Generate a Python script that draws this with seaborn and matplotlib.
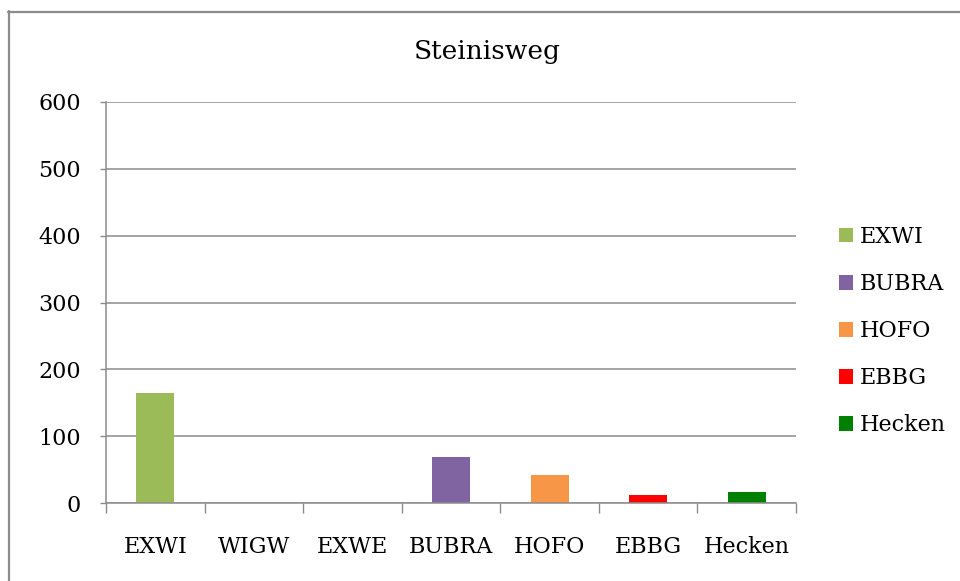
import matplotlib
matplotlib.use("Agg")
import matplotlib.pyplot as plt
import seaborn as sns
import pandas as pd
import numpy as np
from matplotlib.lines import Line2D
from matplotlib.patches import Patch

# ---- data ----
categories = ["EXWI", "WIGW", "EXWE", "BUBRA", "HOFO", "EBBG", "Hecken"]
series = ["EXWI", "BUBRA", "HOFO", "EBBG", "Hecken"]
values = [165, 69, 42, 12, 16]
colors = ["#9BBB59", "#8064A2", "#F79646", "#FF0000", "#008000"]
yticks = [0, 100, 200, 300, 400, 500, 600]
title = "Steinisweg"

df = pd.DataFrame({"cat": series, "val": values, "grp": series})

sns.set_theme(style="white")
plt.rcParams["font.family"] = ["DejaVu Serif", "DejaVu Sans"]
plt.rcParams["text.color"] = "#000000"
plt.rcParams["xtick.color"] = "#000000"
plt.rcParams["ytick.color"] = "#000000"

fig = plt.figure(figsize=(9.6, 5.81), dpi=100)
ax = fig.add_axes([106 / 960, 1 - 503 / 581, 690 / 960, 401 / 581])

sns.barplot(data=df, x="cat", y="val", hue="grp", order=categories,
            hue_order=series, palette=colors, dodge=False, width=0.385,
            ax=ax, legend=False, saturation=1, linewidth=0)

grid_c = "#8C8C8C"
ax.set_ylim(0, 600)
ax.set_xlim(-0.5, len(categories) - 0.5)
ax.set_yticks(yticks)
ax.set_yticklabels([str(v) for v in yticks], fontsize=16)
ax.yaxis.grid(True, color=grid_c, linewidth=1.1)
ax.set_axisbelow(True)
ax.tick_params(axis="y", length=4.5, width=1, color=grid_c, labelcolor="#000000",
               pad=13.5, left=True)

# category boundary ticks (major) and labels at centres (minor)
ax.set_xticks(np.arange(len(categories) + 1) - 0.5)
ax.set_xticklabels([])
ax.tick_params(axis="x", which="major", length=7, width=1, color=grid_c, bottom=True)
ax.set_xticks(np.arange(len(categories)), minor=True)
ax.set_xticklabels(categories, minor=True, fontsize=16)
ax.tick_params(axis="x", which="minor", length=0, pad=23.5, bottom=True,
               labelcolor="#000000")

for s in ["top", "right"]:
    ax.spines[s].set_visible(False)
for s in ["left", "bottom"]:
    ax.spines[s].set_color(grid_c)
    ax.spines[s].set_linewidth(1.1)

ax.set_xlabel("")
ax.set_ylabel("")
fig.text(487 / 960, 1 - 52 / 581, title, fontsize=19, ha="center", va="center",
         color="#000000")

handles = [Patch(facecolor=c, edgecolor="none") for c in colors]
fig.legend(handles, series, loc="center left", bbox_to_anchor=(830 / 960, 1 - 331 / 581),
           frameon=False, fontsize=16, handlelength=0.65, handleheight=0.65,
           handletextpad=0.3, labelspacing=1.13, borderaxespad=0)

# outer frame (left & top visible)
fig.add_artist(Line2D([8.5 / 960, 8.5 / 960], [0, 1 - 11 / 581], transform=fig.transFigure,
                      color="#8C8C8C", linewidth=1.6))
fig.add_artist(Line2D([8 / 960, 1], [1 - 11.5 / 581, 1 - 11.5 / 581], transform=fig.transFigure,
                      color="#8C8C8C", linewidth=1.6))

fig.savefig("out.png", dpi=100)
